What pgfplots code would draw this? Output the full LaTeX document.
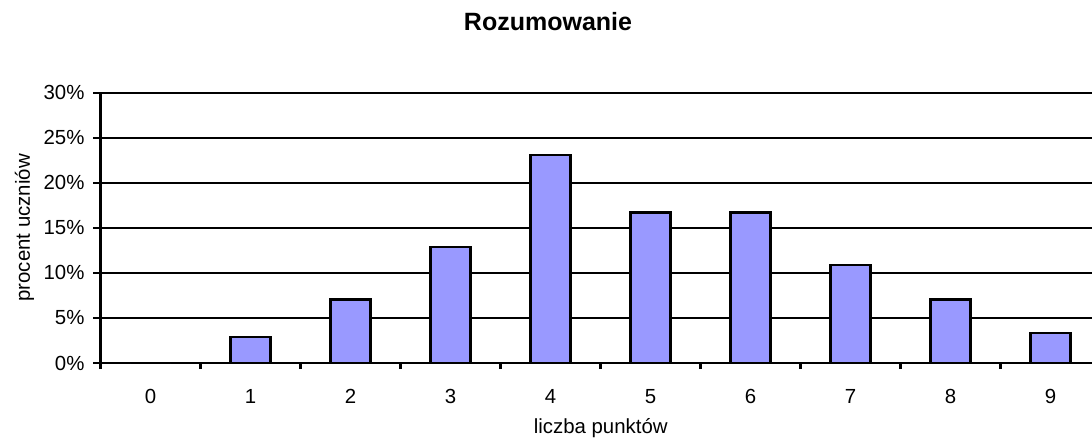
\documentclass[border=0pt]{standalone}
\usepackage{pgfplots}
\pgfplotsset{compat=1.18}
\usepackage{fontspec}
\setmainfont{Liberation Sans}
\definecolor{barblue}{HTML}{9999FF}
\begin{document}
\begin{tikzpicture}
\useasboundingbox (0,0) rectangle (546pt,219.5pt);
\begin{axis}[
  at={(50.25pt,38pt)}, anchor=south west,
  scale only axis, width=495.75pt, height=135.15pt,
  xmin=-0.5, xmax=9.415, ymin=0, ymax=30,
  axis lines=left, axis line style={-, line width=1.2pt, black},
  ybar, bar width=0.4, bar shift=0pt,
  xtick={0,...,9}, xticklabels={0,1,2,3,4,5,6,7,8,9},
  major x tick style={draw=none},
  minor xtick={-0.5,0.5,...,8.5},
  minor x tick style={line width=1.1pt, black},
  minor tick length=3pt,
  ytick={0,5,...,30},
  yticklabels={0\%,5\%,10\%,15\%,20\%,25\%,30\%},
  y tick style={line width=1pt, black},
  major tick length=3.5pt,
  tick align=outside,
  ymajorgrids, grid style={black, line width=0.85pt},
  every tick label/.append style={font=\fontsize{10.2}{12}\selectfont},
  xticklabel style={yshift=-6pt},
  yticklabel style={xshift=-1pt},
  label style={font=\fontsize{10.2}{12}\selectfont},
  xlabel={liczba punktów},
  xlabel style={at={(axis description cs:0.5045,0)}, anchor=base, yshift=-35pt},
  ylabel={procent uczniów},
  ylabel style={at={([xshift=-38pt]axis description cs:0,0.5)}, anchor=center},
]
\addplot[fill=barblue, draw=black, line width=1.1pt] coordinates {
 (0,0) (1,2.85) (2,7.05) (3,12.9) (4,23.1) (5,16.7) (6,16.7) (7,10.85) (8,7.05) (9,3.3)
};
\end{axis}
\node[font=\fontsize{12.5}{15}\selectfont\bfseries, anchor=base] at (274pt,204.2pt) {Rozumowanie};
\end{tikzpicture}
\end{document}
